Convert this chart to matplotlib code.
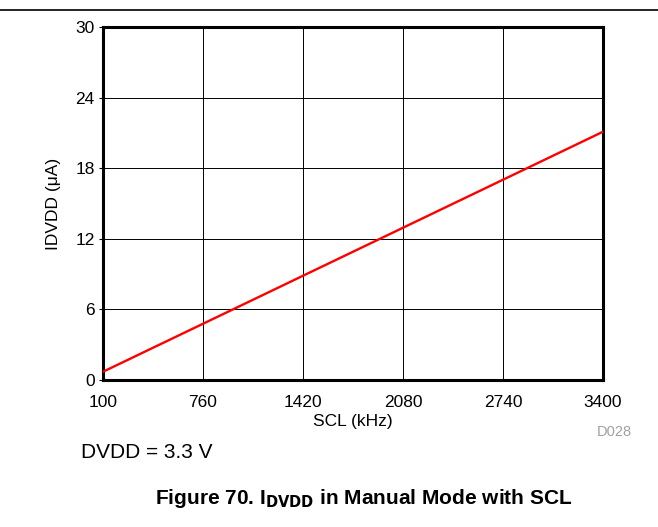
import matplotlib
matplotlib.use('Agg')
import matplotlib.pyplot as plt
import numpy as np

plt.rcParams['font.family'] = ['Liberation Sans', 'DejaVu Sans']

scl_khz = [100, 760, 1420, 2080, 2740, 3400]
idvdd_ua = [0.7, 4.78, 8.86, 12.94, 17.02, 21.1]
xticks = [100, 760, 1420, 2080, 2740, 3400]
yticks = [0, 6, 12, 18, 24, 30]

fig = plt.figure(figsize=(6.58, 5.27), dpi=100)
ax = fig.add_axes([103/658, 1 - 380/527, 500/658, 353/527])

ax.plot(scl_khz, idvdd_ua, color='#ff0000', lw=1.7, zorder=3)

ax.set_xlim(100, 3400)
ax.set_ylim(0, 30)
ax.set_xticks(xticks)
ax.set_yticks(yticks)
ax.tick_params(axis='both', labelsize=12.5, length=3, width=0.8, colors='black')
ax.tick_params(axis='y', pad=3)
ax.tick_params(axis='x', length=0, pad=10.5)
ax.grid(True, color='black', lw=0.7)
for s in ax.spines.values():
    s.set_linewidth(2.2)

ax.set_xlabel('SCL (kHz)', fontsize=12.5, labelpad=3)
ax.set_ylabel('IDVDD (\u03bcA)', fontsize=12.5, labelpad=10)

fig.text(632/658, 1 - 432/527, 'D028', color='#a0a0a0', fontsize=10.5, ha='right', va='center')
fig.text(81/658, 1 - 453/527, 'DVDD = 3.3 V', fontsize=15, ha='left', va='center')
fig.text(364/658, 1 - 498/527, 'Figure 70. I$_\\mathbf{DVDD}$ in Manual Mode with SCL',
         fontsize=15, fontweight='bold', ha='center', va='center')

fig.add_artist(plt.Line2D([0, 1], [1 - 10/527, 1 - 10/527], color='black', lw=1.2))

plt.savefig('out.png', dpi=100)
